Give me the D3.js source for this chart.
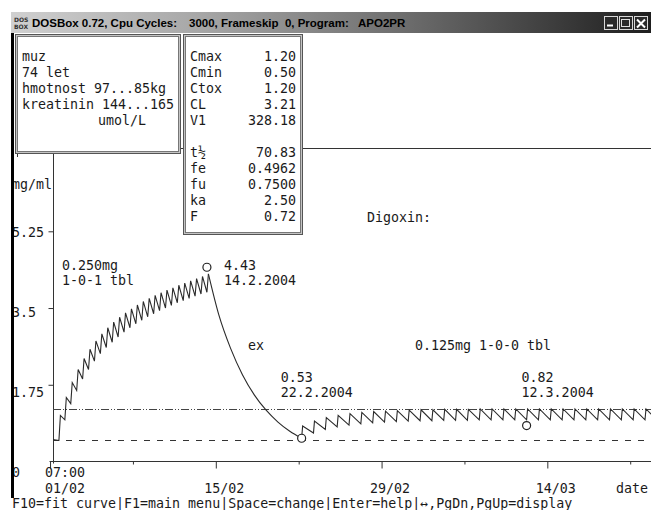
<!DOCTYPE html>
<html><head><meta charset="utf-8">
<script src="https://cdn.jsdelivr.net/npm/d3@7"></script>
<style>
html,body{margin:0;padding:0;background:#fff;overflow:hidden}
svg{display:block}
.mono{font-family:"DejaVu Sans Mono",monospace;font-size:13.3px;fill:#1a1a1a}
.title{font-family:"Liberation Sans",Arial,sans-serif;font-weight:bold;font-size:11.5px;fill:#000}
</style></head><body>
<script>
// ---- Patient panel ----
const patientLines = ["muz", "74 let", "hmotnost 97...85kg", "kreatinin 144...165"];
const patientUnit = "umol/L";

// ---- Model parameter panel ----
const paramNames  = ["Cmax", "Cmin", "Ctox", "CL", "V1", "", "t½", "fe", "fu", "ka", "F"];
const paramValues = ["1.20", "0.50", "1.20", "3.21", "328.18", "", "70.83", "0.4962", "0.7500", "2.50", "0.72"];

// ---- Concentration axis ----
const yTicks = [0, 1.75, 3.5, 5.25];
const yTickLabels = ["0", "1.75", "3.5", "5.25"];
const cMax = 1.20;
const cMin = 0.50;

// ---- Time axis ----
const axisStart = new Date(2004, 1, 1, 7);
const axisEnd = new Date(2004, 2, 26, 7);
const weekTicks = [new Date(2004,1,1), new Date(2004,1,8), new Date(2004,1,15), new Date(2004,1,22),
                   new Date(2004,1,29), new Date(2004,2,7), new Date(2004,2,14), new Date(2004,2,21)];
const majorTicks = [new Date(2004,1,1), new Date(2004,1,15), new Date(2004,1,29), new Date(2004,2,14)];
const dateLabels = ["15/02", "29/02", "14/03"];
const dateLabelTicks = [new Date(2004,1,15), new Date(2004,1,29), new Date(2004,2,14)];

// ---- Regimen 1: 0.250 mg 1-0-1 (every 12 h) ----
const startLevel = 0.50;
const regimen1Start = new Date(2004, 1, 1, 19);
const regimen1EveryHours = 12;
const regimen1PeakDelayHours = 3;
const phase1Trough = [0.48, 0.95, 1.32, 1.62, 1.88, 2.10, 2.29, 2.46, 2.60, 2.72, 2.84, 2.95, 3.05,
                      3.14, 3.22, 3.30, 3.37, 3.44, 3.50, 3.56, 3.62, 3.67, 3.72, 3.77, 3.82, 3.86];
const phase1Peak   = [1.05, 1.46, 1.80, 2.10, 2.35, 2.56, 2.75, 2.91, 3.05, 3.18, 3.29, 3.39, 3.48,
                      3.57, 3.65, 3.72, 3.79, 3.85, 3.91, 3.96, 4.02, 4.07, 4.12, 4.17, 4.22, 4.28];

// ---- Washout after stopping ("ex") ----
const decayDates = [new Date(2004,1,14,10), new Date(2004,1,15,7), new Date(2004,1,16,7), new Date(2004,1,17,7),
                    new Date(2004,1,18,7), new Date(2004,1,19,7), new Date(2004,1,20,7), new Date(2004,1,21,7),
                    new Date(2004,1,22,7)];
const decayValues = [4.28, 3.35, 2.58, 1.98, 1.52, 1.17, 0.90, 0.69, 0.53];

// ---- Regimen 2: 0.125 mg 1-0-0 (every 24 h) ----
const regimen2Start = new Date(2004, 1, 22, 7);
const regimen2EveryHours = 24;
const regimen2PeakDelayHours = 2;
const phase2Trough = [0.53, 0.65, 0.73, 0.79, 0.83, 0.86, 0.88, 0.90, 0.91, 0.92, 0.93, 0.93, 0.94, 0.94, 0.94,
                      0.95, 0.95, 0.95, 0.95, 0.95, 0.95, 0.95, 0.95, 0.95, 0.95, 0.95, 0.95, 0.95, 0.95, 0.95, 0.95];
const phase2Peak   = [0.81, 0.92, 1.00, 1.05, 1.09, 1.12, 1.14, 1.15, 1.16, 1.17, 1.18, 1.18, 1.19, 1.19, 1.19,
                      1.20, 1.20, 1.20, 1.20, 1.20, 1.20, 1.20, 1.20, 1.20, 1.20, 1.20, 1.20, 1.20, 1.20, 1.20, 1.20];

// ---- Measured serum levels ----
const measuredDates  = [new Date(2004,1,14,7), new Date(2004,1,22,7), new Date(2004,2,12,7)];
const measuredValues = [4.43, 0.53, 0.82];

// ---- Layout ----
const W = 651, H = 510;
const plotLeft = 53, plotTop = 148, plotBottom = 461.5;
const pxPerDay = 11.84;
const measuredLabelOffset = [{dx: 17, row: 270}, {dx: -21, row: 382}, {dx: -5, row: 382}];
const notes = [
  {text: "0.250mg", x: 62, y: 270}, {text: "1-0-1 tbl", x: 62, y: 285},
  {text: "Digoxin:", x: 367, y: 222}, {text: "ex", x: 248, y: 350},
  {text: "0.125mg 1-0-0 tbl", x: 415, y: 350}
];

const svg = d3.select("body").append("svg").attr("width", W).attr("height", H);
svg.append("rect").attr("width", W).attr("height", H).attr("fill", "#fff");

const x = d3.scaleTime().domain([axisStart, axisEnd])
  .range([plotLeft, plotLeft + pxPerDay * (axisEnd - axisStart) / 864e5]);
const y = d3.scaleLinear().domain([0, 7.15]).range([plotBottom, plotTop]);
// text rows of the y labels sit on the screen's character grid
const yLabelRow = d3.scaleLinear().domain([0, 5.25]).range([477, 237]);

// ---- Title bar ----
const defs = svg.append("defs");
const grad = defs.append("linearGradient").attr("id", "titleGrad").attr("x1", 0).attr("x2", 1).attr("y1", 0).attr("y2", 0);
[[0, "#d0d0d0"], [0.3, "#a6a6a6"], [0.62, "#6c6c6c"], [1, "#1e1e1e"]]
  .forEach(([o, c]) => grad.append("stop").attr("offset", o).attr("stop-color", c));
svg.append("rect").attr("x", 11).attr("y", 12).attr("width", 640).attr("height", 21).attr("fill", "url(#titleGrad)");
const icon = svg.append("g").attr("transform", "translate(14,16)");
icon.append("text").attr("x", 0).attr("y", 6).text("DOS")
  .attr("font-family", "DejaVu Sans").attr("font-size", 6).attr("font-weight", "bold").attr("fill", "#333");
icon.append("text").attr("x", 0).attr("y", 13).text("BOX")
  .attr("font-family", "DejaVu Sans").attr("font-size", 6).attr("font-weight", "bold").attr("fill", "#333");
svg.append("text").attr("class", "title").attr("x", 32).attr("y", 27).text("DOSBox 0.72, Cpu Cycles:");
svg.append("text").attr("class", "title").attr("x", 189).attr("y", 27).attr("xml:space", "preserve")
  .text("3000, Frameskip  0, Program:   APO2PR");
const btnX = [604, 619, 634];
btnX.forEach(bx => {
  svg.append("rect").attr("x", bx + 0.5).attr("y", 16.5).attr("width", 13).attr("height", 13)
    .attr("fill", "#2a2a2a").attr("stroke", "#d8d8d8");
});
svg.append("line").attr("x1", 607).attr("x2", 613).attr("y1", 25.5).attr("y2", 25.5).attr("stroke", "#fff").attr("stroke-width", 2);
svg.append("rect").attr("x", 621.5).attr("y", 19.5).attr("width", 8).attr("height", 7).attr("fill", "none").attr("stroke", "#ddd");
svg.append("path").attr("d", "M637,19.5L645,27.5M645,19.5L637,27.5").attr("stroke", "#fff").attr("stroke-width", 2);

// ---- Plot frame and axes ----
const g = svg.append("g");
g.append("line").attr("x1", 17).attr("x2", W).attr("y1", plotTop + 0.5).attr("y2", plotTop + 0.5).attr("stroke", "#333");
g.append("line").attr("x1", 17.5).attr("x2", 17.5).attr("y1", plotTop).attr("y2", 157).attr("stroke", "#333");
g.append("line").attr("x1", plotLeft + 0.5).attr("x2", plotLeft + 0.5).attr("y1", plotTop).attr("y2", plotBottom + 2).attr("stroke", "#333");
g.append("line").attr("x1", x(weekTicks[0])).attr("x2", W).attr("y1", plotBottom).attr("y2", plotBottom).attr("stroke", "#333");

const yAxis = d3.axisLeft(y).tickValues(yTicks.filter(v => v > 0)).tickSize(5).tickFormat("");
g.append("g").attr("transform", `translate(${plotLeft + 0.5},0)`).call(yAxis)
  .call(s => s.select(".domain").remove())
  .call(s => s.selectAll("line").attr("stroke", "#333"));

const minorTicks = weekTicks.filter(d => !majorTicks.some(m => +m === +d));
g.append("g").attr("transform", `translate(0.5,${plotBottom})`)
  .call(d3.axisBottom(x).tickValues(majorTicks).tickSize(7).tickFormat(""))
  .call(s => s.select(".domain").remove())
  .call(s => s.selectAll("line").attr("stroke", "#333"));
g.append("g").attr("transform", `translate(0.5,${plotBottom})`)
  .call(d3.axisBottom(x).tickValues(minorTicks).tickSize(3).tickFormat(""))
  .call(s => s.select(".domain").remove())
  .call(s => s.selectAll("line").attr("stroke", "#333"));

// ---- Therapeutic range lines ----
g.append("line").attr("x1", plotLeft).attr("x2", W).attr("y1", Math.round(y(cMax)) + 0.5).attr("y2", Math.round(y(cMax)) + 0.5)
  .attr("stroke", "#444").attr("stroke-dasharray", "8,2,1,2,1,2");
g.append("line").attr("x1", plotLeft).attr("x2", W).attr("y1", Math.round(y(cMin)) + 0.5).attr("y2", Math.round(y(cMin)) + 0.5)
  .attr("stroke", "#333").attr("stroke-dasharray", "6,7");

// ---- Concentration curve ----
const hours = h => h * 3600e3;
const phase1 = [{t: axisStart, c: startLevel}];
phase1Trough.forEach((c, i) => {
  const t = new Date(+regimen1Start + hours(i * regimen1EveryHours));
  phase1.push({t, c});
  phase1.push({t: new Date(+t + hours(regimen1PeakDelayHours)), c: phase1Peak[i]});
});
const phase2 = [];
phase2Trough.forEach((c, i) => {
  const t = new Date(+regimen2Start + hours(i * regimen2EveryHours));
  phase2.push({t, c});
  phase2.push({t: new Date(+t + hours(regimen2PeakDelayHours)), c: phase2Peak[i]});
});
const decay = decayDates.map((t, i) => ({t, c: decayValues[i]}));

const lin = d3.line().x(d => x(d.t)).y(d => y(d.c));
const smooth = d3.line().x(d => x(d.t)).y(d => y(d.c)).curve(d3.curveMonotoneX);
const curveStyle = p => p.attr("fill", "none").attr("stroke", "#2a2a2a").attr("stroke-width", 1.1);
g.append("path").attr("d", lin(phase1)).call(curveStyle);
g.append("path").attr("d", smooth(decay)).call(curveStyle);
g.append("path").attr("d", lin(phase2)).call(curveStyle);

// ---- Measured levels ----
g.selectAll("circle.m").data(measuredValues).join("circle").attr("class", "m")
  .attr("cx", (d, i) => x(measuredDates[i])).attr("cy", d => y(d)).attr("r", 4)
  .attr("fill", "#fff").attr("stroke", "#222").attr("stroke-width", 1.2);
const fmtDate = d => `${d.getDate()}.${d.getMonth() + 1}.${d.getFullYear()}`;
measuredValues.forEach((v, i) => {
  const lx = x(measuredDates[i]) + measuredLabelOffset[i].dx;
  const row = measuredLabelOffset[i].row;
  g.append("text").attr("class", "mono").attr("x", lx).attr("y", row).text(v.toFixed(2));
  g.append("text").attr("class", "mono").attr("x", lx).attr("y", row + 15).text(fmtDate(measuredDates[i]));
});
notes.forEach(n => g.append("text").attr("class", "mono").attr("x", n.x).attr("y", n.y).text(n.text));

// ---- Axis labels ----
yTicks.forEach((v, i) => g.append("text").attr("class", "mono").attr("x", 12).attr("y", yLabelRow(v)).text(yTickLabels[i]));
g.append("text").attr("class", "mono").attr("x", 12).attr("y", 189).text("mg/ml");
g.append("text").attr("class", "mono").attr("x", plotLeft - 8).attr("y", 477).text(d3.timeFormat("%H:%M")(axisStart));
g.append("text").attr("class", "mono").attr("x", plotLeft - 8).attr("y", 493).text(d3.timeFormat("%d/%m")(axisStart));
dateLabels.forEach((l, i) => g.append("text").attr("class", "mono").attr("x", x(dateLabelTicks[i]) - 11).attr("y", 493).text(l));
g.append("text").attr("class", "mono").attr("x", 616).attr("y", 493).text("date");

// ---- Panels ----
function panel(px, py, pw, ph) {
  svg.append("rect").attr("x", px).attr("y", py).attr("width", pw).attr("height", ph).attr("fill", "#fff");
  svg.append("rect").attr("x", px + 0.5).attr("y", py + 0.5).attr("width", pw - 1).attr("height", ph - 1).attr("fill", "none").attr("stroke", "#555");
  svg.append("rect").attr("x", px + 1.5).attr("y", py + 1.5).attr("width", pw - 3).attr("height", ph - 3).attr("fill", "none").attr("stroke", "#c4c4c4");
  svg.append("rect").attr("x", px + 2.5).attr("y", py + 2.5).attr("width", pw - 5).attr("height", ph - 5).attr("fill", "none").attr("stroke", "#777");
}
panel(15, 34, 166, 120);
panel(183, 34, 120, 201);
patientLines.forEach((l, i) => svg.append("text").attr("class", "mono").attr("x", 22).attr("y", 60.5 + 16 * i).text(l));
svg.append("text").attr("class", "mono").attr("x", 98).attr("y", 60.5 + 16 * 4).text(patientUnit);
paramNames.forEach((n, i) => {
  if (!n) return;
  svg.append("text").attr("class", "mono").attr("x", 190).attr("y", 60.5 + 16 * i).text(n);
  svg.append("text").attr("class", "mono").attr("x", 296).attr("y", 60.5 + 16 * i).attr("text-anchor", "end").text(paramValues[i]);
});

// ---- Window edge and status line ----
svg.append("rect").attr("x", 11).attr("y", 33).attr("width", 3).attr("height", 465).attr("fill", "#000");
svg.append("text").attr("class", "mono").attr("x", 12).attr("y", 508)
  .text("F10=fit curve|F1=main menu|Space=change|Enter=help|↔,PgDn,PgUp=display");
</script>
</body></html>
